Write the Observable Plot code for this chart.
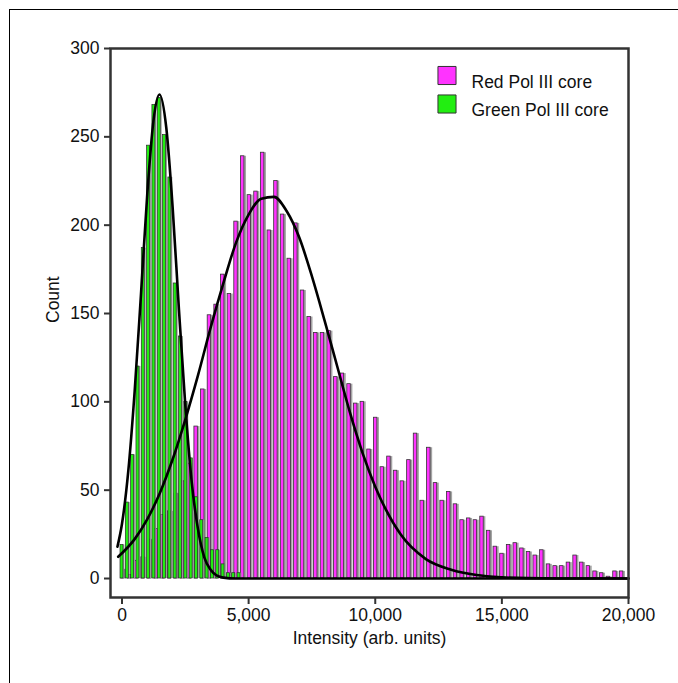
<!DOCTYPE html>
<html>
<head>
<meta charset="utf-8">
<script src="https://cdn.jsdelivr.net/npm/d3@7"></script>
<script src="https://cdn.jsdelivr.net/npm/@observablehq/plot@0.6"></script>
<style>
  html, body { margin: 0; padding: 0; background: #fff; overflow: hidden; }
  #wrap { position: relative; width: 678px; height: 683px; }
  #border { position: absolute; left: 9px; top: 9px; width: 720px; height: 720px;
            border-left: 1px solid #000; border-top: 1px solid #000; pointer-events: none; }
  #chart { position: absolute; left: 0; top: 0; }
</style>
</head>
<body>
<div id="wrap"><div id="chart"></div><div id="border"></div></div>
<script>
// ---- data ----
const seriesNames = ["Red Pol III core", "Green Pol III core"];
const seriesColors = ["#ff33ff", "#22ee11"];

// Red histogram: bin width ~262.5, first bin centre ~40
const redFirstCenter = 40;
const redBinWidth = 262.5;
const redCounts = [
  5, 2, 10, 12, 22, 28, 36, 38, 48, 55,
  65, 86, 107, 149, 155, 172, 161, 202, 239, 217,
  219, 241, 197, 225, 206, 181, 201, 163, 148, 139,
  139, 140, 114, 116, 110, 99, 100, 73, 91, 63,
  69, 61, 55, 67, 82, 44, 74, 54, 44, 49,
  42, 33, 34, 33, 35, 27, 18, 14, 19, 20,
  17, 15, 13, 16, 8, 7, 7, 9, 13, 9,
  7, 4, 3, 1, 4, 4
];

// Green histogram: bin width ~210, first bin centre ~0
const greenFirstCenter = 0;
const greenBinWidth = 210;
const greenCounts = [
  19, 43, 70, 120, 187, 245, 268, 272, 251, 227,
  167, 137, 100, 68, 46, 33, 23, 16, 16, 8,
  3, 3, 3
];

// Gaussian fit curves
const redFitX = [-150, 500, 1000, 1500, 2000, 2500, 3000, 3500, 4000, 4500, 5000, 5500, 6000, 6500, 7000, 7500, 8000, 8500, 9000, 9500, 10000, 11000, 12000, 13000, 14000, 15000, 16000, 18000, 20000];
const redFitY = [12.3, 22.3, 33.6, 48.6, 67.5, 90, 115, 142, 167, 190, 206, 215, 216, 208, 193, 171, 146, 120, 94, 71, 52, 25, 11, 5, 2, 0.7, 0.2, 0, 0];

const greenFitX = [-180, 0, 250, 500, 750, 1000, 1250, 1480, 1750, 2000, 2250, 2500, 2750, 3000, 3250, 3500, 3750, 4000, 4500, 6000, 10000, 20000];
const greenFitY = [18, 31, 61, 106, 161, 218, 260, 274, 255, 210, 152, 98, 55, 28, 12, 5, 1.6, 0.5, 0, 0, 0, 0];

const xTicks = [0, 5000, 10000, 15000, 20000];
const yTicks = [0, 50, 100, 150, 200, 250, 300];

// ---- tables built from the arrays ----
const red = redCounts.map((n, k) => ({c: redFirstCenter + redBinWidth * k, n}));
const green = greenCounts.map((n, k) => ({c: greenFirstCenter + greenBinWidth * k, n}));
const redFit = redFitX.map((x, i) => ({x, y: redFitY[i]}));
const greenFit = greenFitX.map((x, i) => ({x, y: greenFitY[i]}));

const rw = redBinWidth, gw = greenBinWidth;
const FS = 17.5;

const chart = Plot.plot({
  width: 678,
  height: 683,
  marginLeft: 110,
  marginRight: 50,
  marginTop: 48,
  marginBottom: 86,
  style: {fontFamily: "'Liberation Sans', Arial, sans-serif", fontSize: FS + "px", color: "#111", background: "transparent"},
  x: {domain: [-454, 20000]},
  y: {domain: [-10.75, 300]},
  marks: [
    // red histogram: grey shadow + magenta bar
    Plot.rect(red, {x1: d => d.c + rw * 0.25, x2: d => d.c + rw * 0.58, y1: 0, y2: "n", fill: "#a4a4a4"}),
    Plot.rect(red, {x1: d => d.c - rw * 0.26, x2: d => d.c + rw * 0.26, y1: 0, y2: "n", fill: seriesColors[0], stroke: "#333", strokeWidth: 0.8}),
    // green histogram
    Plot.rect(green, {x1: d => d.c + gw * 0.28, x2: d => d.c + gw * 0.55, y1: 0, y2: "n", fill: "#9a9a9a"}),
    Plot.rect(green, {x1: d => d.c - gw * 0.28, x2: d => d.c + gw * 0.28, y1: 0, y2: "n", fill: seriesColors[1], stroke: "#2a2a2a", strokeWidth: 0.7}),
    // fits
    Plot.line(greenFit, {x: "x", y: "y", curve: "monotone-x", stroke: "#000", strokeWidth: 2.6}),
    Plot.line(redFit, {x: "x", y: "y", curve: "monotone-x", stroke: "#000", strokeWidth: 2.6}),
    // axes
    Plot.axisX({ticks: xTicks, tickFormat: d3.format(","), tickSize: 7, tickPadding: 4, stroke: "#333", strokeWidth: 2, label: null, fontSize: FS}),
    Plot.axisY({ticks: yTicks, tickSize: 6, tickPadding: 5, stroke: "#333", strokeWidth: 2, label: null, fontSize: FS}),
    Plot.frame({stroke: "#333", strokeWidth: 2.5}),
    // axis titles
    Plot.text(["Count"], {frameAnchor: "left", dx: -57, rotate: -90, fontSize: FS, fill: "#111"}),
    Plot.text(["Intensity (arb. units)"], {frameAnchor: "bottom", dy: 46, fontSize: FS, fill: "#111"}),
    // legend
    Plot.dot([0], {frameAnchor: "top-right", dx: -181.5, dy: 27, symbol: "square", r: 10.2, fill: seriesColors[0], stroke: "#333", strokeWidth: 1}),
    Plot.dot([0], {frameAnchor: "top-right", dx: -181.5, dy: 55.5, symbol: "square", r: 10.2, fill: seriesColors[1], stroke: "#333", strokeWidth: 1}),
    Plot.text([seriesNames[0]], {frameAnchor: "top-right", dx: -157, dy: 27, textAnchor: "start", fontSize: FS, fill: "#111"}),
    Plot.text([seriesNames[1]], {frameAnchor: "top-right", dx: -157, dy: 55.5, textAnchor: "start", fontSize: FS, fill: "#111"})
  ]
});
document.getElementById("chart").append(chart);
</script>
</body>
</html>
